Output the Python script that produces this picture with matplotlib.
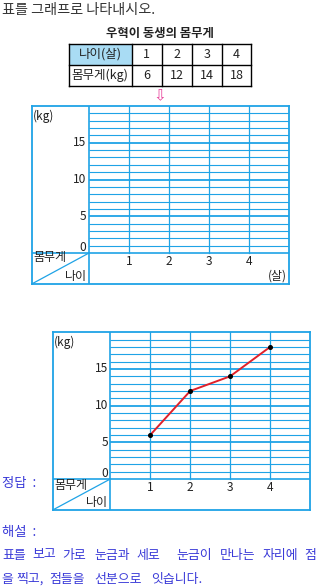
import matplotlib
matplotlib.use("Agg")
import matplotlib.pyplot as plt
from matplotlib.patches import Rectangle

plt.rcParams['font.family'] = ['Noto Sans CJK KR', 'DejaVu Sans']

# ---- data ----
title_text = "표를 그래프로 나타내시오."
table_title = "우혁이 동생의 몸무게"
row_labels = ["나이(살)", "몸무게(kg)"]
ages = [1, 2, 3, 4]
weights = [6, 12, 14, 18]
y_ticks = [0, 5, 10, 15]
y_max = 20
x_max = 5
y_unit = "(kg)"
x_unit = "(살)"
corner_top = "몸무게"
corner_bottom = "나이"
answer_label = "정답  :"
explain_label = "해설  :"
explain_line1 = ["표를", "보고", "가로", "눈금과", "세로", "눈금이", "만나는", "자리에", "점"]
explain_line2 = ["을", "찍고,", "점들을", "선분으로", "잇습니다."]

W, H = 320, 588
GRID = "#1fa3e6"
HEAD = "#a9dcf4"
BLUE_TXT = "#3a3ad8"
INK = "#222222"
FS = 8.6

fig = plt.figure(figsize=(W / 100, H / 100), dpi=100)
bg = fig.add_axes([0, 0, 1, 1])
bg.set_xlim(0, W)
bg.set_ylim(H, 0)
bg.axis("off")

# top instruction
bg.text(1.5, 10, title_text, fontsize=10.2, color="#333333", ha="left", va="center")

# table
bg.text(160, 33, table_title, fontsize=8.9, color=INK, ha="center", va="center", fontweight="bold")
tx = [69, 131.5, 162, 192, 222, 251]
ty = [44, 64.5, 86]
bg.add_patch(Rectangle((tx[0], ty[0]), tx[1] - tx[0], ty[1] - ty[0], facecolor=HEAD, edgecolor="none"))
for x in tx:
    bg.plot([x, x], [ty[0], ty[-1]], color="black", lw=1.0)
for y in ty:
    bg.plot([tx[0], tx[-1]], [y, y], color="black", lw=1.0)
bg.text((tx[0] + tx[1]) / 2, (ty[0] + ty[1]) / 2, row_labels[0], fontsize=9, color=INK, ha="center", va="center")
bg.text((tx[0] + tx[1]) / 2, (ty[1] + ty[2]) / 2, row_labels[1], fontsize=9, color=INK, ha="center", va="center")
for i, (a, w) in enumerate(zip(ages, weights)):
    cx = (tx[i + 1] + tx[i + 2]) / 2
    bg.text(cx, (ty[0] + ty[1]) / 2, str(a), fontsize=9, color=INK, ha="center", va="center")
    bg.text(cx, (ty[1] + ty[2]) / 2, str(w), fontsize=9, color=INK, ha="center", va="center")

# arrow
bg.text(160, 96, "⇩", fontsize=11, color="#e8409a", ha="center", va="center",
        family=["DejaVu Sans"])


def draw_chart(left, top, right, bottom, x0px, y0px, with_data, corner_dy, show_xunit):
    ax = fig.add_axes([left / W, 1 - bottom / H, (right - left) / W, (bottom - top) / H])
    xpx = (right - x0px) / x_max
    ypx = (y0px - top) / y_max
    xmin = -(x0px - left) / xpx
    ymin = -(bottom - y0px) / ypx
    ax.set_xlim(xmin, x_max)
    ax.set_ylim(ymin, y_max)
    ax.set_xticks([])
    ax.set_yticks([])
    ax.patch.set_alpha(0)
    for s in ax.spines.values():
        s.set_color(GRID)
        s.set_linewidth(1.3)
    for v in range(1, y_max):
        ax.plot([0, x_max], [v, v], color=GRID, lw=1.3 if v % 5 == 0 else 0.8, solid_capstyle="butt")
    for a in ages:
        ax.plot([a, a], [0, y_max], color=GRID, lw=0.9)
    ax.plot([0, 0], [ymin, y_max], color=GRID, lw=1.2)
    ax.plot([xmin, x_max], [0, 0], color=GRID, lw=1.2)
    ax.plot([xmin, 0], [ymin, 0], color=GRID, lw=0.9)
    # labels
    for v in y_ticks:
        yy = v if v > 0 else 0.8
        ax.text(-0.06, yy, str(v), fontsize=FS, color=INK, ha="right", va="center")
    ax.text(xmin + 0.03, 18.6, y_unit, fontsize=FS, color=INK, ha="left", va="center")
    for a in ages:
        ax.text(a, -1.15, str(a), fontsize=FS, color=INK, ha="center", va="center")
    ax.text(xmin + 0.03, corner_dy, corner_top, fontsize=FS, color=INK, ha="left", va="center")
    ax.text(-0.06, -3.2, corner_bottom, fontsize=FS, color=INK, ha="right", va="center")
    if show_xunit:
        ax.text(4.94, -3.2, x_unit, fontsize=FS, color=INK, ha="right", va="center")
    if with_data:
        ax.plot(ages, weights, color="#e0202a", lw=1.4, zorder=5)
        ax.plot(ages, weights, "o", color="black", ms=2.6, zorder=6)
    return ax


draw_chart(31.7, 106, 289, 284, 89, 253, False, -0.55, True)
draw_chart(52.7, 332.3, 310, 510, 110.3, 479, True, -0.85, False)

# answer / explanation
bg.text(1.5, 483, answer_label, fontsize=9.6, color=BLUE_TXT, ha="left", va="center")
bg.text(1.5, 532, explain_label, fontsize=9.6, color=BLUE_TXT, ha="left", va="center")
x1 = [2.0, 32.5, 62.5, 94.5, 136.5, 176.5, 219.5, 262.5, 304.5]
for w, x in zip(explain_line1, x1):
    bg.text(x, 555, w, fontsize=9.3, color=BLUE_TXT, ha="left", va="center")
x2 = [1.2, 16.5, 49.5, 94.5, 151.5]
for w, x in zip(explain_line2, x2):
    bg.text(x, 579, w, fontsize=9.3, color=BLUE_TXT, ha="left", va="center")

fig.savefig("out.png", dpi=100)
